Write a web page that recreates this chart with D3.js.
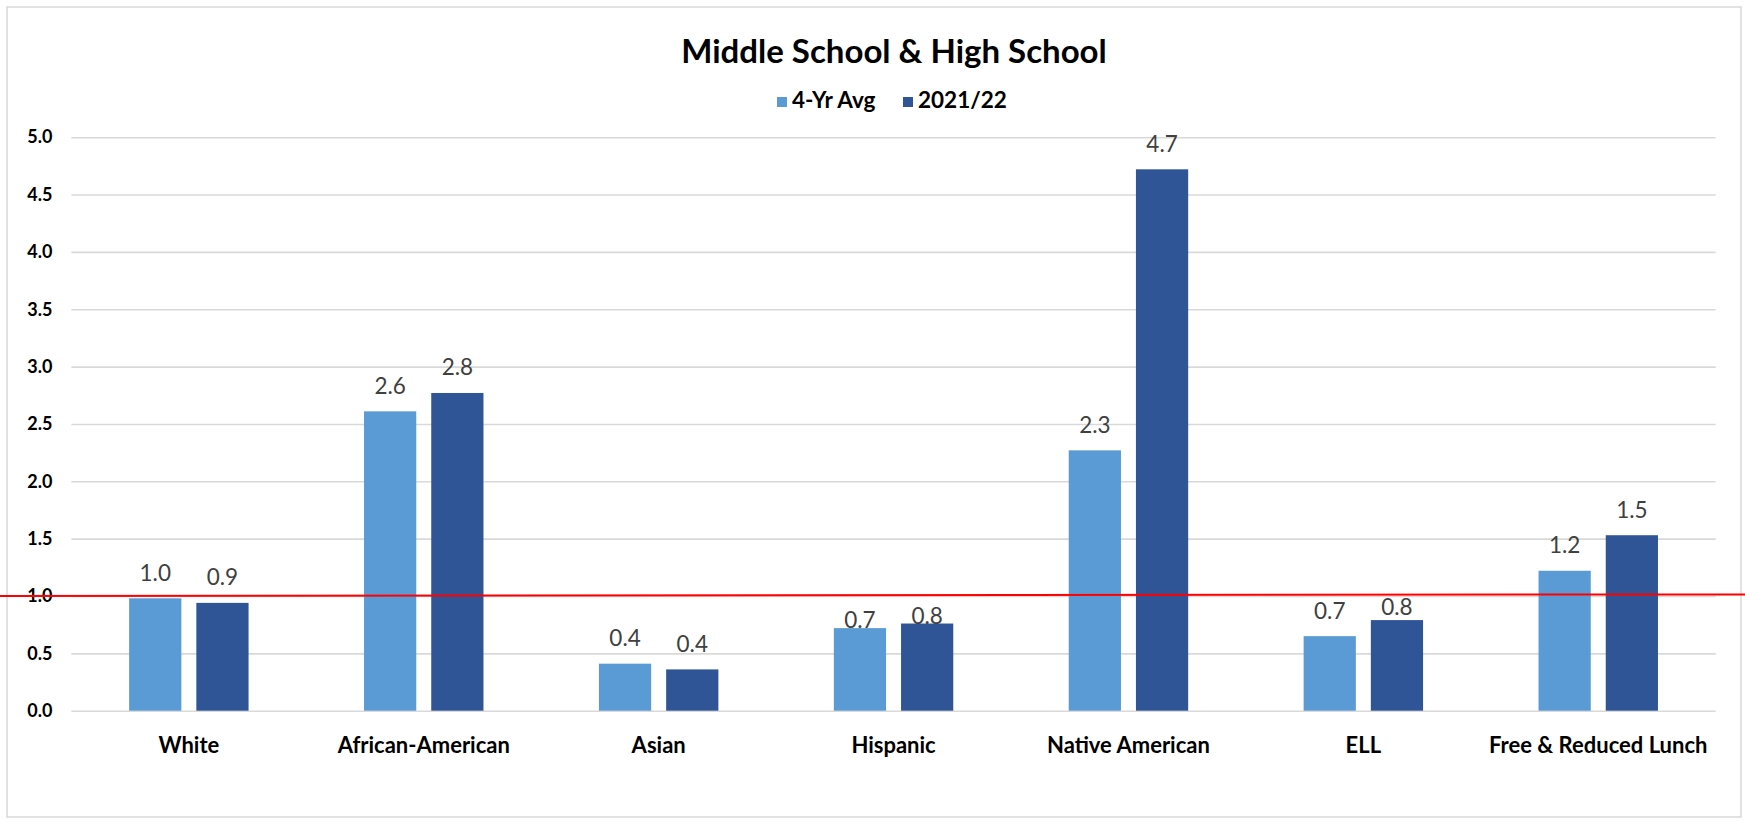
<!DOCTYPE html>
<html><head><meta charset="utf-8">
<script src="https://cdn.jsdelivr.net/npm/d3@7"></script>
<style>
html,body{margin:0;padding:0;background:#fff;}
svg{display:block;font-family:Lato,"Open Sans",sans-serif;}
</style>
</head><body>
<svg id="chart" width="1745" height="822"></svg>
<script>
// ---- data ----
const categories = ["White", "African-American", "Asian", "Hispanic", "Native American", "ELL", "Free & Reduced Lunch"];
const seriesNames = ["4-Yr Avg", "2021/22"];
const avg4yr   = [0.98, 2.61, 0.41, 0.72, 2.27, 0.65, 1.22];
const year2122 = [0.94, 2.77, 0.36, 0.76, 4.72, 0.79, 1.53];
const yTicks = [0, 0.5, 1, 1.5, 2, 2.5, 3, 3.5, 4, 4.5, 5];
const referenceValue = 1.0;
const titleText = "Middle School & High School";

// ---- style / layout ----
const colors = {"4-Yr Avg": "#5b9bd5", "2021/22": "#2f5597"};
const W = 1745, H = 822;
const plot = {left: 71.4, right: 1715.7, top: 137.2, bottom: 710.7};
// label nudges (distance of label baseline above bar top), defaults to 17.5
const labelLift = {"Hispanic|4-Yr Avg": 0, "Hispanic|2021/22": 0, "ELL|2021/22": 5};

const rows = categories.map((c, i) => ({cat: c, vals: [
  {series: seriesNames[0], value: avg4yr[i]},
  {series: seriesNames[1], value: year2122[i]}
]}));

const svg = d3.select("#chart");

// border
svg.append("rect").attr("x", 7).attr("y", 7).attr("width", 1734).attr("height", 810)
  .attr("fill", "#fff").attr("stroke", "#d9d9d9").attr("stroke-width", 1.5);

const x0 = d3.scaleBand().domain(categories).range([plot.left, plot.right]).paddingInner(0).paddingOuter(0);
const x1 = d3.scaleBand().domain(seriesNames).range([0, x0.bandwidth()]).paddingInner(0.223).paddingOuter(0.859);
const y = d3.scaleLinear().domain([0, 5]).range([plot.bottom, plot.top]);

// gridlines via axis
const yAxis = d3.axisLeft(y).tickValues(yTicks).tickFormat(d3.format(".1f"))
  .tickSize(-(plot.right - plot.left)).tickPadding(19);
const gy = svg.append("g").attr("transform", `translate(${plot.left},0)`).call(yAxis);
gy.select(".domain").remove();
gy.selectAll(".tick line").attr("stroke", "#d9d9d9").attr("stroke-width", 1.6);
gy.selectAll(".tick text").attr("fill", "#000").attr("font-size", 18).attr("font-weight", 700)
  .attr("font-family", "Lato, sans-serif");

// bars
const groups = svg.append("g").selectAll("g").data(rows).join("g")
  .attr("transform", d => `translate(${x0(d.cat)},0)`);
groups.selectAll("rect").data(d => d.vals.map(v => ({...v, cat: d.cat}))).join("rect")
  .attr("x", d => x1(d.series)).attr("width", x1.bandwidth())
  .attr("y", d => y(d.value)).attr("height", d => y(0) - y(d.value))
  .attr("fill", d => colors[d.series]);

// data labels
groups.selectAll("text.val").data(d => d.vals.map(v => ({...v, cat: d.cat}))).join("text")
  .attr("class", "val")
  .attr("x", d => x1(d.series) + x1.bandwidth() / 2)
  .attr("y", d => {
    const k = d.cat + "|" + d.series;
    const lift = (k in labelLift) ? labelLift[k] : 17.5;
    return y(d.value) - lift;
  })
  .attr("text-anchor", "middle").attr("font-size", 22.5).attr("fill", "#404040")
  .text(d => d3.format(".1f")(d.value));

// category labels
const xAxis = d3.axisBottom(x0).tickSize(0).tickPadding(0);
const gx = svg.append("g").attr("transform", `translate(0,${plot.bottom})`).call(xAxis);
gx.select(".domain").remove();
gx.selectAll(".tick text").attr("dy", null).attr("y", 42.5)
  .attr("fill", "#000").attr("font-size", 22).attr("font-weight", 700)
  .attr("font-family", "Lato, sans-serif");

// title
svg.append("text").attr("x", 894).attr("y", 63.3).attr("text-anchor", "middle")
  .attr("font-size", 33).attr("font-weight", 700).attr("fill", "#000").text(titleText);

// legend
const legendPos = [{sx: 777, tx: 792}, {sx: 903, tx: 918}];
const lg = svg.append("g").selectAll("g").data(seriesNames).join("g");
lg.append("rect").attr("x", (d, i) => legendPos[i].sx).attr("y", 97)
  .attr("width", 10).attr("height", 10).attr("fill", d => colors[d]);
lg.append("text").attr("x", (d, i) => legendPos[i].tx).attr("y", 107.5)
  .attr("font-size", 22.5).attr("font-weight", 700).attr("fill", "#000").text(d => d);

// reference line (drawn across full width)
svg.append("line").attr("x1", 0).attr("x2", W)
  .attr("y1", y(referenceValue)).attr("y2", y(referenceValue) - 1.6)
  .attr("stroke", "#ff0000").attr("stroke-width", 2);
</script>
</body></html>
